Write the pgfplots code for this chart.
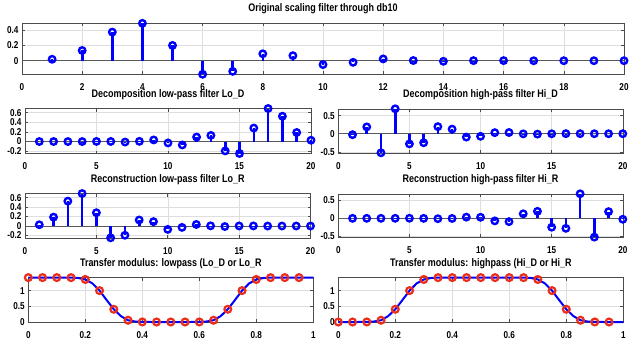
\documentclass[border=0pt]{standalone}
\usepackage{fontspec}
\setmainfont{Liberation Sans}[FakeStretch=0.82]
\usepackage{pgfplots}
\usepackage{pgfplotstable}
\pgfplotsset{compat=1.18}
\definecolor{mblue}{RGB}{0,0,255}
\definecolor{mred}{RGB}{235,45,25}
\pgfplotsset{
  base/.style={scale only axis, anchor=north west, clip=false,
    axis line style={black!70, line width=0.6bp},
    tick align=inside, major tick length=3bp,
    tick style={black!70, line width=0.6bp},
    grid=major, grid style={black!13, line width=0.5bp},
    tick label style={font=\fontsize{10}{10}\selectfont\bfseries},
    xticklabel style={yshift=-6bp},
    title style={at={(0.5,1)}, anchor=base, yshift=5.5bp, font=\fontsize{11}{11}\selectfont\bfseries}},
  stemx/.style={xmin=0, xmax=20, xtick={0,5,10,15,20}, xticklabels={0,5,10,15,20}},
  lowy/.style={ymin=-0.249846, ymax=0.688459, ytick={-0.2,0,0.2,0.4,0.6}, yticklabels={-0.2,0,0.2,0.4,0.6}},
  highy/.style={ymin=-0.527201, ymax=0.688459, ytick={-0.5,0,0.5}, yticklabels={-0.5,0,0.5}},
  tfy/.style={xmin=0, xmax=1, ymin=0, ymax=1.41421, xtick={0,0.2,0.4,0.6,0.8,1}, xticklabels={0,0.2,0.4,0.6,0.8,1}, ytick={0,0.5,1}, yticklabels={0,0.5,1}},
  zline/.style={black!65, line width=0.8bp, forget plot},
}
\pgfplotstableread{
x w lod hid lor hir
1 0.018859 -0.000013 -0.026670 0.026670 -0.000013
2 0.133061 0.000094 0.188177 0.188177 -0.000094
3 0.372785 -0.000116 -0.527201 0.527201 -0.000116
4 0.486814 -0.000686 0.688459 0.688459 0.000686
5 0.198818 0.001992 -0.281172 0.281172 0.001992
6 -0.176668 0.001395 -0.249846 -0.249846 -0.001395
7 -0.138554 -0.010733 0.195946 -0.195946 -0.010733
8 0.090064 0.003607 0.127369 0.127369 -0.003607
9 0.065802 0.033213 -0.093057 0.093057 0.033213
10 -0.050483 -0.029458 -0.071394 -0.071394 0.029458
11 -0.020829 -0.071394 0.029458 -0.029458 -0.071394
12 0.023485 0.093057 0.033213 0.033213 -0.093057
13 0.002550 0.127369 -0.003607 0.003607 0.127369
14 -0.007590 -0.195946 -0.010733 -0.010733 0.195946
15 0.000987 -0.249846 -0.001395 0.001395 -0.249846
16 0.001409 0.281172 0.001992 0.001992 -0.281172
17 -0.000485 0.688459 0.000686 -0.000686 0.688459
18 -0.000082 0.527201 -0.000116 -0.000116 -0.527201
19 0.000066 0.188177 -0.000094 0.000094 0.188177
20 -0.000009 0.026670 -0.000013 -0.000013 -0.026670
}\filt
\pgfplotstableread{
f lo hi
0 1.41421 0
0.05 1.41421 0.00001
0.10 1.41421 0.0023
0.15 1.41311 0.05593
0.20 1.35483 0.40552
0.25 1.00000 1.00000
0.30 0.40552 1.35483
0.35 0.05593 1.41311
0.40 0.0023 1.41421
0.45 0.00001 1.41421
0.50 0 1.41421
0.55 0.00001 1.41421
0.60 0.0023 1.41421
0.65 0.05593 1.41311
0.70 0.40552 1.35483
0.75 1.00000 1.00000
0.80 1.35483 0.40552
0.85 1.41311 0.05593
0.90 1.41421 0.0023
0.95 1.41421 0.00001
}\tfc
\pgfplotstableread{
f lo hi
0 1.41421 0
0.025 1.41421 0
0.05 1.41421 0.00001
0.075 1.41421 0.0002
0.10 1.41421 0.0023
0.125 1.41415 0.0153
0.15 1.41311 0.05593
0.175 1.40174 0.18742
0.20 1.35483 0.40552
0.225 1.22989 0.69812
0.25 1.00000 1.00000
0.275 0.69812 1.22989
0.30 0.40552 1.35483
0.325 0.18742 1.40174
0.35 0.05593 1.41311
0.375 0.0153 1.41415
0.40 0.0023 1.41421
0.425 0.0002 1.41421
0.45 0.00001 1.41421
0.475 0 1.41421
0.50 0 1.41421
0.525 0 1.41421
0.55 0.00001 1.41421
0.575 0.0002 1.41421
0.60 0.0023 1.41421
0.625 0.0153 1.41415
0.65 0.05593 1.41311
0.675 0.18742 1.40174
0.70 0.40552 1.35483
0.725 0.69812 1.22989
0.75 1.00000 1.00000
0.775 1.22989 0.69812
0.80 1.35483 0.40552
0.825 1.40174 0.18742
0.85 1.41311 0.05593
0.875 1.41415 0.0153
0.90 1.41421 0.0023
0.925 1.41421 0.0002
0.95 1.41421 0.00001
0.975 1.41421 0
1.00 1.41421 0
}\tff
\begin{document}
\begin{tikzpicture}
\useasboundingbox (0,0) rectangle (630bp,-345bp);
% top
\begin{axis}[base, at={(22bp,-23.3bp)}, width=602bp, height=51bp,
  xmin=0, xmax=20, xtick={0,2,...,20}, xticklabels={0,2,4,6,8,10,12,14,16,18,20},
  ymin=-0.176668, ymax=0.486814, ytick={0,0.2,0.4}, yticklabels={0,0.2,0.4},
  title={Original scaling filter through db10}]
\addplot[zline] coordinates {(0,0) (20,0)};
\addplot[mblue, line width=2.6bp, ycomb, mark=o, mark size=3.2bp, mark options={line width=2.4bp}] table[x=x, y=w] {\filt};
\end{axis}
% Lo_D
\begin{axis}[base, stemx, lowy, at={(25bp,-108.5bp)}, width=286bp, height=45bp,
  title={Decomposition low-pass filter Lo\_D}]
\addplot[zline] coordinates {(0,0) (20,0)};
\addplot[mblue, line width=2.6bp, ycomb, mark=o, mark size=3.2bp, mark options={line width=2.4bp}] table[x=x, y=lod] {\filt};
\end{axis}
% Hi_D
\begin{axis}[base, stemx, highy, at={(338.3bp,-108.8bp)}, width=284.5bp, height=44bp,
  title={Decomposition high-pass filter Hi\_D}]
\addplot[zline] coordinates {(0,0) (20,0)};
\addplot[mblue, line width=2.6bp, ycomb, mark=o, mark size=3.2bp, mark options={line width=2.4bp}] table[x=x, y=hid] {\filt};
\end{axis}
% Lo_R
\begin{axis}[base, stemx, lowy, at={(25bp,-193.5bp)}, width=285.5bp, height=44.3bp,
  title={Reconstruction low-pass filter Lo\_R}]
\addplot[zline] coordinates {(0,0) (20,0)};
\addplot[mblue, line width=2.6bp, ycomb, mark=o, mark size=3.2bp, mark options={line width=2.4bp}] table[x=x, y=lor] {\filt};
\end{axis}
% Hi_R
\begin{axis}[base, stemx, highy, at={(338.3bp,-193.8bp)}, width=284.5bp, height=43.3bp,
  title={Reconstruction high-pass filter Hi\_R}]
\addplot[zline] coordinates {(0,0) (20,0)};
\addplot[mblue, line width=2.6bp, ycomb, mark=o, mark size=3.2bp, mark options={line width=2.4bp}] table[x=x, y=hir] {\filt};
\end{axis}
% transfer lowpass
\begin{axis}[base, tfy, at={(28.3bp,-277.6bp)}, width=285bp, height=44.4bp,
  title={Transfer modulus: lowpass (Lo\_D or Lo\_R}]
\addplot[mblue, line width=2bp] table[x=f, y=lo] {\tff};
\addplot[only marks, mark=o, mark size=3.4bp, mred, mark options={line width=2.2bp}] table[x=f, y=lo] {\tfc};
\end{axis}
% transfer highpass
\begin{axis}[base, tfy, at={(338.3bp,-277.6bp)}, width=285bp, height=44.4bp,
  title={Transfer modulus: highpass (Hi\_D or Hi\_R}]
\addplot[mblue, line width=2bp] table[x=f, y=hi] {\tff};
\addplot[only marks, mark=o, mark size=3.4bp, mred, mark options={line width=2.2bp}] table[x=f, y=hi] {\tfc};
\end{axis}
\end{tikzpicture}
\end{document}
